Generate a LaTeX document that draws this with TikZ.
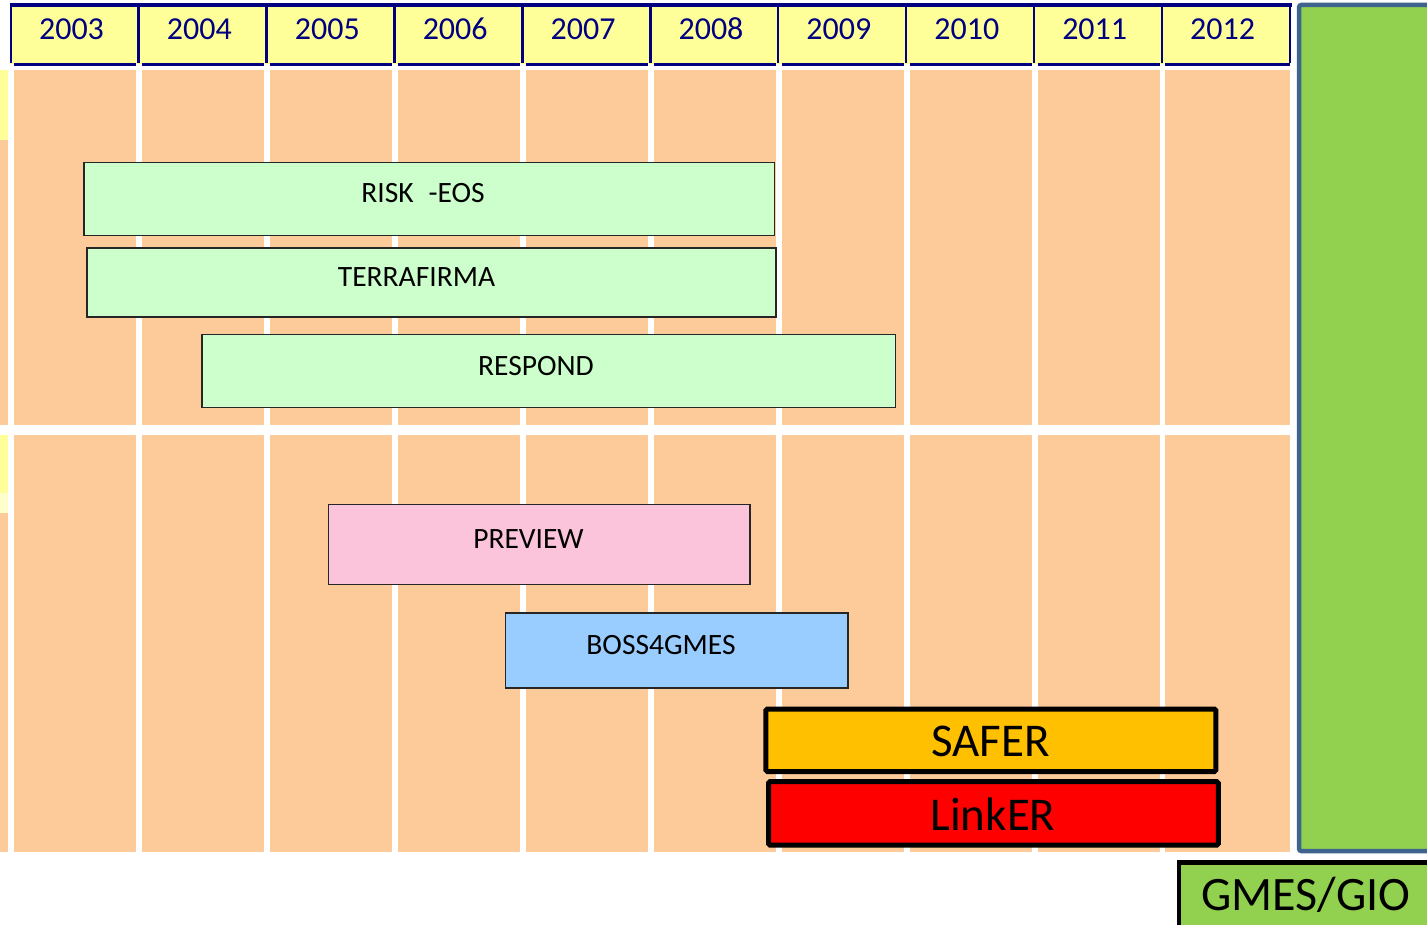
\documentclass[tikz,border=0pt]{standalone}
\usepackage{fontspec}
\setmainfont{Carlito}
\definecolor{peach}{RGB}{253,203,153}
\definecolor{hdryellow}{RGB}{255,255,153}
\definecolor{paleyellow}{RGB}{255,255,204}
\definecolor{navyline}{RGB}{0,0,128}
\definecolor{lgreen}{RGB}{204,255,204}
\definecolor{lpink}{RGB}{252,196,218}
\definecolor{lblue}{RGB}{153,204,255}
\definecolor{amber}{RGB}{255,192,0}
\definecolor{pgreen}{RGB}{146,208,80}
\definecolor{panelborder}{RGB}{63,99,143}
\begin{document}
\begin{tikzpicture}[x=1pt,y=-1pt,
  bar/.style={draw=black!85, line width=1.6pt, inner sep=0pt, outer sep=0pt, anchor=north west},
  bigbar/.style={draw=black, line width=5pt, rounded corners=1.5pt, inner sep=0pt, outer sep=0pt, anchor=north west},
  yearlbl/.style={font=\fontsize{32}{32}\selectfont, text=navyline, inner sep=0pt, anchor=base},
  barlbl/.style={font=\fontsize{29.5}{30}\selectfont, inner sep=0pt, anchor=base},
  biglbl/.style={font=\fontsize{47}{47}\selectfont, inner sep=0pt, anchor=base}]
\clip (0,0) rectangle (1427,925);
\fill[white] (0,0) rectangle (1427,925);

% header background
\fill[hdryellow] (11,5) rectangle (1290,64);

% peach columns and header bottom segments
\foreach \k in {0,...,9} {
  \fill[peach] ({14+128*\k},70) rectangle ({136+128*\k},425);
  \fill[peach] ({14+128*\k},435) rectangle ({136+128*\k},852);
  \draw[navyline, line width=3.3pt] ({14+128*\k},64.8) -- ({136+128*\k},64.8);
}
\fill[peach] (1165,70) rectangle (1290,425);
\fill[peach] (1165,435) rectangle (1290,852);
\draw[navyline, line width=3.3pt] (1165,64.8) -- (1289.5,64.8);

% left strip
\fill[peach] (0,70) rectangle (8,425);
\fill[hdryellow] (0,70) rectangle (8,140);
\fill[peach] (0,435) rectangle (8,852);
\fill[hdryellow] (0,435) rectangle (8,493);
\fill[paleyellow] (0,493) rectangle (8,513);

% header lines
\foreach \k in {0,...,10} {
  \draw[navyline, line width=2.5pt] ({10.8+127.9*\k},4) -- ({10.8+127.9*\k},63.5);
}
\draw[navyline, line width=3.6pt] (9.5,5.2) -- (1291.5,5.2);

% year labels
\foreach \y [count=\i from 0] in {2003,2004,2005,2006,2007,2008,2009,2010,2011,2012} {
  \node[yearlbl] (y\y) at ({71.5+127.9*\i},39.3) {\y};
}

% right green panel
\node[draw=panelborder, fill=pgreen, line width=4.5pt, rounded corners=2pt,
      minimum width=200pt, minimum height=846pt, inner sep=0pt, outer sep=0pt, anchor=north west]
      (panel) at (1299.2,5) {};

% GMES/GIO box
\node[draw=black, fill=pgreen, line width=4.5pt, minimum width=300pt, minimum height=120pt,
      inner sep=0pt, outer sep=0pt, anchor=north west] (gmes) at (1179.2,862.5) {};
\node[font=\fontsize{48}{48}\selectfont, inner sep=0pt, anchor=base] (gmeslbl) at (1306,910) {GMES/GIO};

% project bars
\node[bar, fill=lgreen, minimum width=690.5pt, minimum height=73pt] (risk) at (84,162.5) {};
\node[barlbl] (risklbl) at (423,202.7) {RISK\hspace{15pt}-EOS};

\node[bar, fill=lgreen, minimum width=689pt, minimum height=69pt] (terra) at (87,248.3) {};
\node[barlbl] (terralbl) at (416.5,286.7) {TERRAFIRMA};

\node[bar, fill=lgreen, minimum width=693.5pt, minimum height=73pt] (respond) at (202,334.5) {};
\node[barlbl] (respondlbl) at (536,375.7) {RESPOND};

\node[bar, fill=lpink, minimum width=421.5pt, minimum height=80pt] (preview) at (328.5,504.5) {};
\node[barlbl] (previewlbl) at (528.5,548.7) {PREVIEW};

\node[bar, fill=lblue, minimum width=342.5pt, minimum height=75pt] (boss) at (505.5,613) {};
\node[barlbl] (bosslbl) at (661,654.7) {BOSS4GMES};

\node[bigbar, fill=amber, minimum width=450pt, minimum height=62.5pt] (safer) at (765.8,709) {};
\node[biglbl] (saferlbl) at (990.5,756.7) {SAFER};

\node[bigbar, fill=red, minimum width=449.8pt, minimum height=63.3pt] (linker) at (768.5,781.7) {};
\node[biglbl] (linkerlbl) at (993,830) {LinkER};
\end{tikzpicture}
\end{document}
